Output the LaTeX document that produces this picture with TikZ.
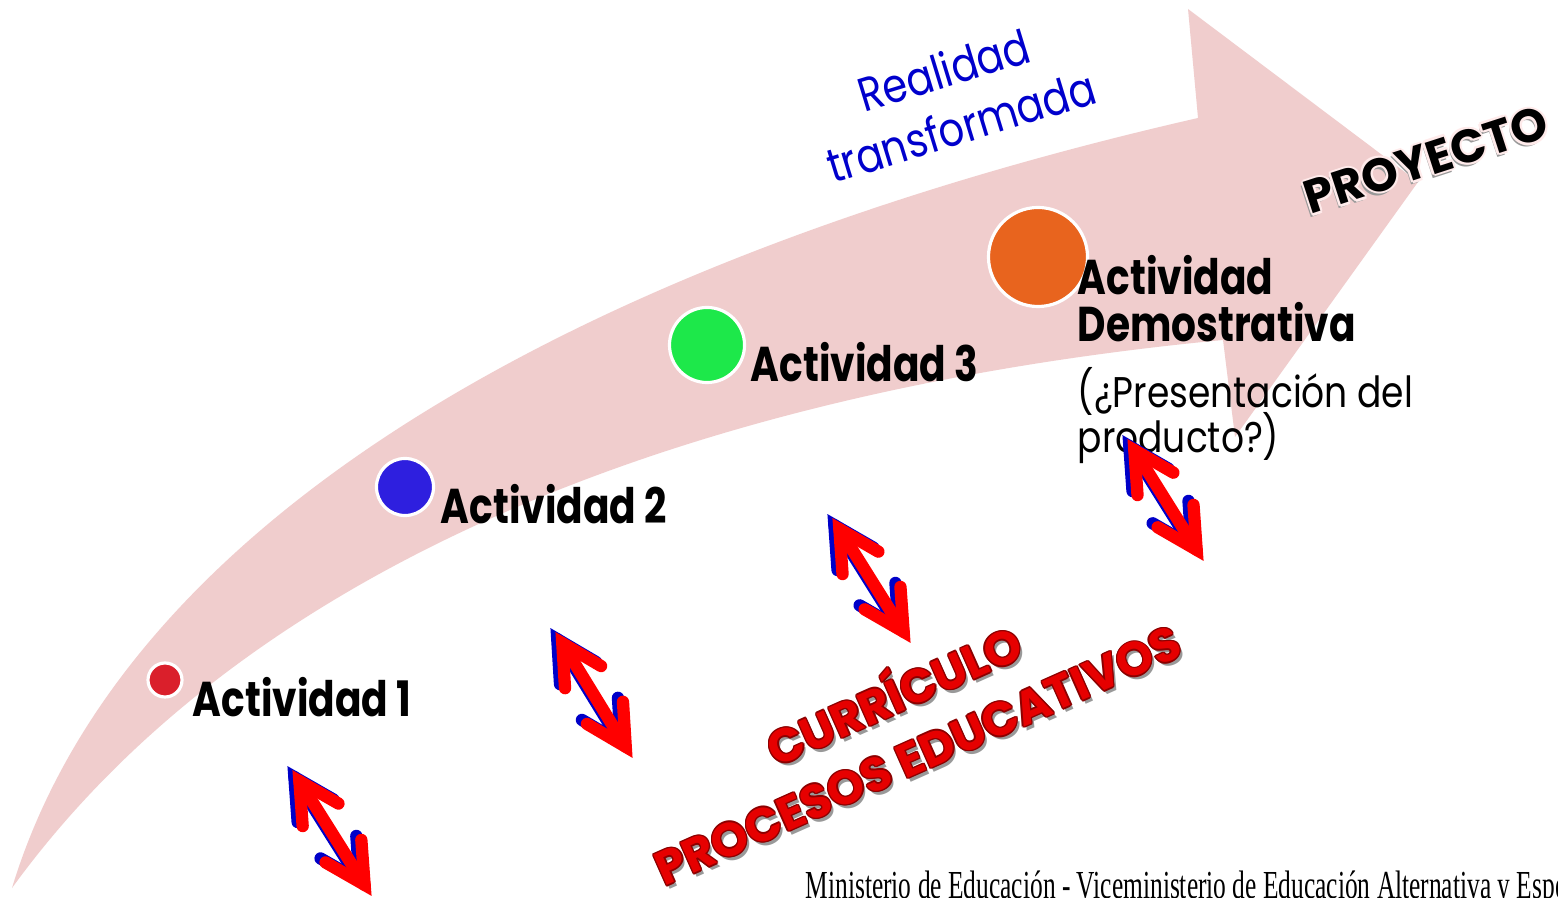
\documentclass[tikz,border=0pt]{standalone}
\usepackage{fontspec}
\usetikzlibrary{calc}
\newfontfamily\pop[FakeStretch=0.84]{Poppins}
\newfontfamily\popb[FakeStretch=0.8]{Poppins}
\newfontfamily\popw{Poppins}
\newfontfamily\footfont[FakeStretch=0.64]{Liberation Serif}
\definecolor{pinkarrow}{RGB}{240,205,205}
\definecolor{actone}{RGB}{218,31,43}
\definecolor{acttwo}{RGB}{46,31,223}
\definecolor{actthree}{RGB}{29,232,74}
\definecolor{actfour}{RGB}{232,100,30}
\definecolor{realblue}{RGB}{0,0,204}
\definecolor{arrred}{RGB}{255,0,0}
\definecolor{arrblue}{RGB}{0,0,200}
\definecolor{curred}{RGB}{230,0,0}
\definecolor{curdark}{RGB}{140,0,0}
\definecolor{halo}{RGB}{255,235,235}

\newcommand\dblarrow[2]{%
  \coordinate (#1i) at ($(#1)!0.12cm!(#2)$);
  \coordinate (#2i) at ($(#2)!0.12cm!(#1)$);
  \foreach \col/\sx/\sy in {arrblue/-5/-4, arrred/0/0} {
    \begin{scope}[transform canvas={shift={(\sx,\sy)}}]
      \draw[twoway, draw=\col] (#1i) -- (#2i);
      \draw[twoway, draw=\col] ($(#1i)!0.45cm!28:(#2i)$) -- (#1i) -- ($(#1i)!0.45cm!-28:(#2i)$);
      \draw[twoway, draw=\col] ($(#2i)!0.45cm!28:(#1i)$) -- (#2i) -- ($(#2i)!0.45cm!-28:(#1i)$);
    \end{scope}
  }%
}

\begin{document}
\begin{tikzpicture}[x=0.01cm, y=-0.01cm,
  dot/.style={circle, draw=white, line width=0.9pt, inner sep=0pt},
  acttext/.style={anchor=base west, inner sep=0pt, font=\popb\bfseries\fontsize{13.9}{15}\selectfont},
  plaintext/.style={anchor=base west, inner sep=0pt, font=\pop\fontsize{12.2}{14}\selectfont},
  bluetext/.style={anchor=base, inner sep=0pt, rotate=17, text=realblue, font=\pop\fontsize{13.5}{15}\selectfont},
  twoway/.style={line width=3.5pt, line cap=round, line join=miter},
  projbase/.style={rotate=18, anchor=base west, inner sep=0pt, font=\popw\bfseries\fontsize{13.3}{15}\selectfont},
  curbase/.style={rotate=24, anchor=base west, inner sep=0pt, font=\popw\bfseries\fontsize{13.4}{15}\selectfont},
  footstyle/.style={anchor=base west, inner sep=0pt, font=\footfont\fontsize{11.3}{13}\selectfont}]

\clip (0,0) rectangle (1558,898);
\fill[white] (0,0) rectangle (1558,898);

% big curved arrow
\fill[pinkarrow] (12,888) .. controls (130,500) and (620,250) .. (1198,118)
  -- (1188,9) -- (1418,182) -- (1235,437) -- (1223,340)
  .. controls (700,390) and (250,560) .. (12,888) -- cycle;

% blue words
\node[bluetext] (real1) at (949,87) {Realidad};
\node[bluetext] (real2) at (966,143) {transformada};

% activity dots
\node[dot, fill=actone, minimum size=0.34cm] (c1) at (165,680) {};
\node[dot, fill=acttwo, minimum size=0.57cm] (c2) at (405,487) {};
\node[dot, fill=actthree, minimum size=0.75cm] (c3) at (707,345) {};
\node[dot, fill=actfour, minimum size=0.99cm] (c4) at (1038,257) {};

% activity labels
\node[acttext] (t1) at (192,717) {Actividad 1};
\node[acttext] (t2) at (440,524) {Actividad 2};
\node[acttext] (t3) at (750,382) {Actividad 3};
\node[acttext] (t4a) at (1077,295) {Actividad};
\node[acttext] (t4b) at (1077,342) {Demostrativa};
\node[plaintext] (t4c) at (1077,408) {(¿Presentación del};
\node[plaintext] (t4d) at (1077,453) {producto?)};

% double arrows
\coordinate (a1) at (293,771); \coordinate (b1) at (371,895);
\coordinate (a2) at (556,633); \coordinate (b2) at (632,757);
\coordinate (a3) at (833,519); \coordinate (b3) at (910,642);
\coordinate (a4) at (1128,440); \coordinate (b4) at (1203,560);
\dblarrow{a1}{b1}
\dblarrow{a2}{b2}
\dblarrow{a3}{b3}
\dblarrow{a4}{b4}

% PROYECTO
\coordinate (pyb) at (1310,215);
\node[projbase, text=black!40] (pys) at ($(pyb)+(-2,4)$) {PROYECTO};
\foreach[count=\i] \a in {0,45,...,315}
  \node[projbase, text=halo] (pyh\i) at ($(pyb)+(\a:2.3)$) {PROYECTO};
\node[projbase, text=black] (proj) at (pyb) {PROYECTO};

% CURRICULO / PROCESOS EDUCATIVOS
\coordinate (cub) at (776,768);
\coordinate (peb) at (664,887);
\node[curbase, text=black!40] (cus) at ($(cub)+(3,4)$) {CURRÍCULO};
\node[curbase, text=black!40] (pes) at ($(peb)+(3,4)$) {PROCESOS EDUCATIVOS};
\foreach[count=\i] \a in {0,45,...,315} {
  \node[curbase, text=curdark] (cuh\i) at ($(cub)+(\a:1.4)$) {CURRÍCULO};
  \node[curbase, text=curdark] (peh\i) at ($(peb)+(\a:1.4)$) {PROCESOS EDUCATIVOS};
}
\node[curbase, text=curred] (cur) at (cub) {CURRÍCULO};
\node[curbase, text=curred] (pe) at (peb) {PROCESOS EDUCATIVOS};

% footer
\node[footstyle] (foot) at (805,898) {Ministerio de Educación - Viceministerio de Educación Alternativa y Especial};
\end{tikzpicture}
\end{document}
